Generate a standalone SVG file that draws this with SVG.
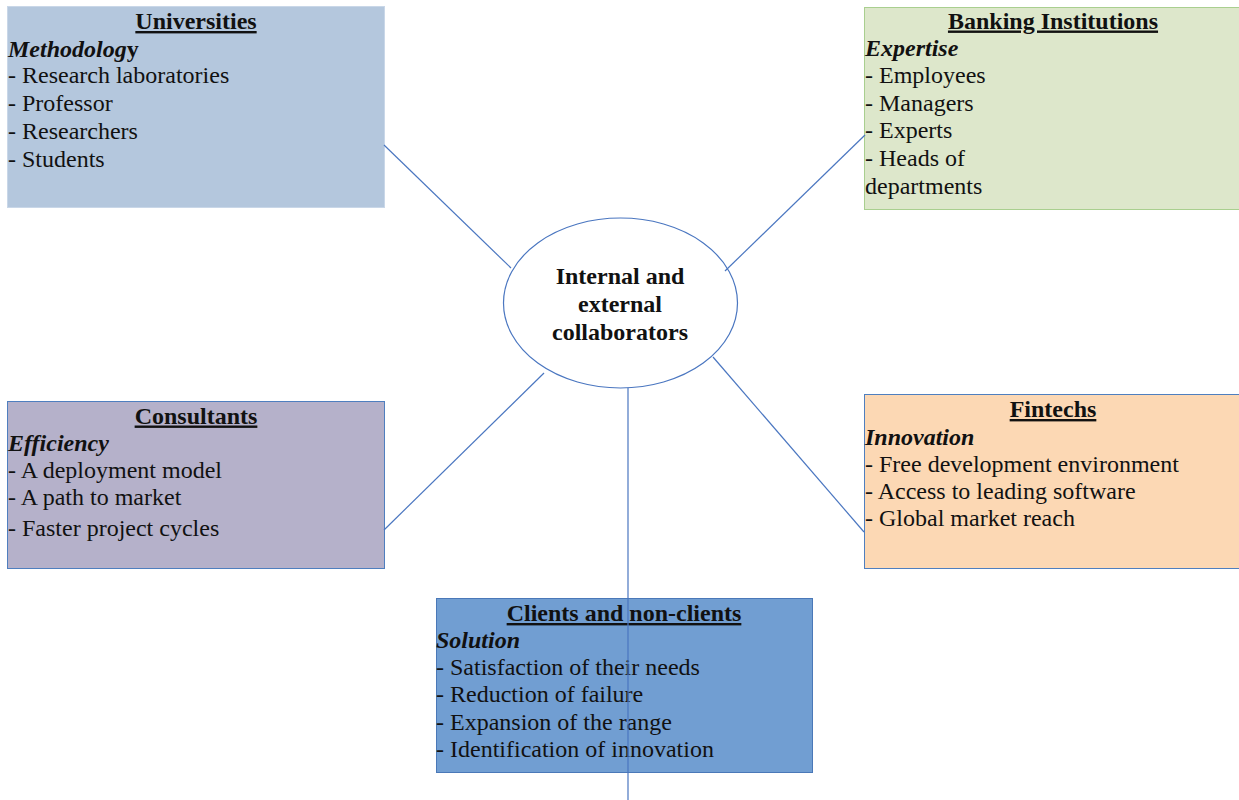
<svg xmlns="http://www.w3.org/2000/svg" width="1239" height="800" viewBox="0 0 1239 800">
<style>
text{font-family:"Liberation Serif","Times New Roman",serif;font-size:24px;fill:#111;}
.t{font-weight:bold;font-size:24px;text-decoration:underline;text-anchor:middle;}
.s{font-weight:bold;font-style:italic;}
.c{font-weight:bold;font-size:24px;text-anchor:middle;}
.ln{stroke:#4a76c0;stroke-width:1.2;fill:none;}
</style>
<rect width="1239" height="800" fill="#ffffff"/>
<g id="universities">
<rect x="7.5" y="6.5" width="377" height="201" fill="#b4c7dd" stroke="#c9d7e8" stroke-width="1"/>
<text class="t" x="196" y="29">Universities</text>
<text class="s" x="8" y="56.6">Methodolog<tspan font-style="normal">y</tspan></text>
<text x="8" y="83">- Research laboratories</text>
<text x="8" y="111">- Professor</text>
<text x="8" y="138.5">- Researchers</text>
<text x="8" y="166.5">- Students</text>
</g>
<g id="banking">
<rect x="864.5" y="7.5" width="376" height="202" fill="#dde7cb" stroke="#a9cf8f" stroke-width="1"/>
<text class="t" x="1053" y="28.5">Banking Institutions</text>
<text class="s" x="865" y="55.5">Expertise</text>
<text x="865" y="82.5">- Employees</text>
<text x="865" y="110.5">- Managers</text>
<text x="865" y="138">- Experts</text>
<text x="865" y="166">- Heads of</text>
<text x="865" y="193.5">departments</text>
</g>
<g id="consultants">
<rect x="7.5" y="401.5" width="377" height="167" fill="#b5b1ca" stroke="#4f7fbf" stroke-width="1"/>
<text class="t" x="196" y="423.5">Consultants</text>
<text class="s" x="8" y="451">Efficiency</text>
<text x="8" y="478">- A deployment model</text>
<text x="8" y="505">- A path to market</text>
<text x="8" y="535.5">- Faster project cycles</text>
</g>
<g id="fintechs">
<rect x="864.5" y="394.5" width="376" height="174" fill="#fcd8b4" stroke="#4f7fbf" stroke-width="1"/>
<text class="t" x="1053" y="417">Fintechs</text>
<text class="s" x="865" y="444.5">Innovation</text>
<text x="865" y="471.5">- Free development environment</text>
<text x="865" y="498.5">- Access to leading software</text>
<text x="865" y="526">- Global market reach</text>
</g>
<g id="clients">
<rect x="436.5" y="598.5" width="376" height="174" fill="#719ed2" stroke="#4a78b8" stroke-width="1"/>
<text class="t" x="624" y="621">Clients and non-clients</text>
<text class="s" x="436" y="647.5">Solution</text>
<text x="436" y="674.5">- Satisfaction of their needs</text>
<text x="436" y="702">- Reduction of failure</text>
<text x="436" y="729.5">- Expansion of the range</text>
<text x="436" y="757">- Identification of innovation</text>
</g>
<g id="center">
<ellipse cx="620.5" cy="303" rx="117" ry="85" fill="#ffffff" stroke="#4a76c0" stroke-width="1.2"/>
<text class="c" x="620" y="284">Internal and</text>
<text class="c" x="620" y="312">external</text>
<text class="c" x="620" y="340">collaborators</text>
</g>
<g id="connectors">
<line class="ln" x1="384" y1="145" x2="511" y2="268"/>
<line class="ln" x1="725" y1="271" x2="865" y2="135"/>
<line class="ln" x1="544" y1="373" x2="384" y2="530"/>
<line class="ln" x1="713" y1="357" x2="864" y2="532"/>
<line class="ln" x1="628" y1="388" x2="628" y2="800"/>
</g>
</svg>
